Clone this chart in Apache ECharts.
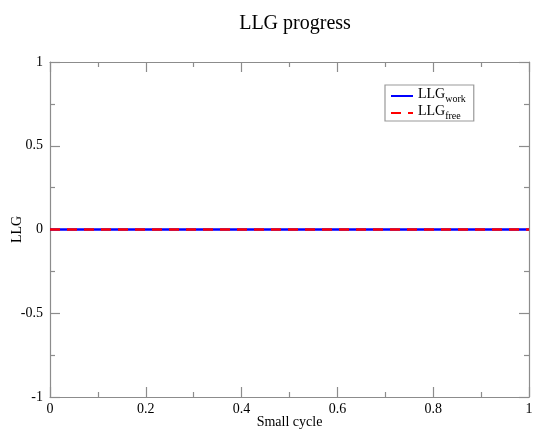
<!DOCTYPE html>
<html><head><meta charset="utf-8">
<script src="https://cdn.jsdelivr.net/npm/echarts@6/dist/echarts.min.js"></script>
<style>html,body{margin:0;padding:0;background:#fff;}#c{width:533px;height:430px;}</style>
</head><body><div id="c"></div>
<script>
var cycles = [0, 1];
var llgWork = [0, 0];
var llgFree = [0, 0];
var seriesNames = ['LLG_work', 'LLG_free'];
var xTicks = {min: 0, max: 1, interval: 0.2};
var yTicks = {min: -1, max: 1, interval: 0.5};

var FONT = '"Liberation Serif", "DejaVu Serif", serif';
var AX = '#8c8c8c';
function pts(ys){ return cycles.map(function(x,i){ return [x, ys[i]]; }); }
function axisBase(extra){
  var o = {
    type:'value', axisLine:{show:true, onZero:false, lineStyle:{color:AX, width:1.2}},
    axisTick:{show:true, inside:true, length:10, lineStyle:{color:AX, width:1.2}},
    minorTick:{show:true, splitNumber:2, length:5, lineStyle:{color:AX, width:1.2}},
    splitLine:{show:false}, minorSplitLine:{show:false},
    nameMoveOverlap:false,
    axisLabel:{color:'#000', fontFamily:FONT, fontSize:14}
  };
  for (var k in extra) o[k]=extra[k];
  return o;
}
var chart = echarts.init(document.getElementById('c'), null, {renderer:'canvas'});
chart.setOption({
  animation:false,
  backgroundColor:'#fff',
  title:{text:'LLG progress', left:290, top:9, textAlign:'center',
    textStyle:{fontFamily:FONT, fontSize:20, fontWeight:'normal', color:'#000'}},
  grid:{left:50, right:4, top:62, bottom:33, containLabel:false, outerBoundsMode:'none'},
  legend:{
    orient:'vertical', left:385, top:85, padding:[2,8,0,5],
    borderColor:'#999', borderWidth:1.2, itemWidth:22, itemHeight:8, itemGap:0,
    itemStyle:{opacity:0},
    data:seriesNames,
    formatter:function(n){ var p=n.split('_'); return '{a|'+p[0]+'}{b|'+p[1]+'}'; },
    textStyle:{fontFamily:FONT, color:'#000', rich:{
      a:{fontFamily:FONT, fontSize:14, color:'#000', verticalAlign:'bottom', lineHeight:16, padding:[0,0,3,0]},
      b:{fontFamily:FONT, fontSize:10, color:'#000', verticalAlign:'bottom', lineHeight:12}
    }}
  },
  xAxis:[
    axisBase({position:'bottom', min:xTicks.min, max:xTicks.max, interval:xTicks.interval,
      axisLabel:{color:'#000', fontFamily:FONT, fontSize:14, margin:5},
      name:'Small cycle', nameLocation:'middle', nameGap:18,
      nameTextStyle:{fontFamily:FONT, fontSize:14, color:'#000'}}),
    axisBase({position:'top', min:xTicks.min, max:xTicks.max, interval:xTicks.interval,
      axisLabel:{show:false}})
  ],
  yAxis:[
    axisBase({position:'left', min:yTicks.min, max:yTicks.max, interval:yTicks.interval,
      axisLabel:{color:'#000', fontFamily:FONT, fontSize:14, margin:7},
      name:'LLG', nameLocation:'middle', nameGap:26,
      nameTextStyle:{fontFamily:FONT, fontSize:14, color:'#000'}}),
    axisBase({position:'right', min:yTicks.min, max:yTicks.max, interval:yTicks.interval,
      axisLabel:{show:false}})
  ],
  series:[
    {name:seriesNames[0], type:'line', data:pts(llgWork), symbol:'none',
      lineStyle:{color:'#0000ff', width:2.5}, itemStyle:{color:'#0000ff'}},
    {name:seriesNames[1], type:'line', data:pts(llgFree), symbol:'none',
      lineStyle:{color:'#ff0000', width:2.5, type:[10,7]}, itemStyle:{color:'#ff0000'}}
  ]
});
</script></body></html>
